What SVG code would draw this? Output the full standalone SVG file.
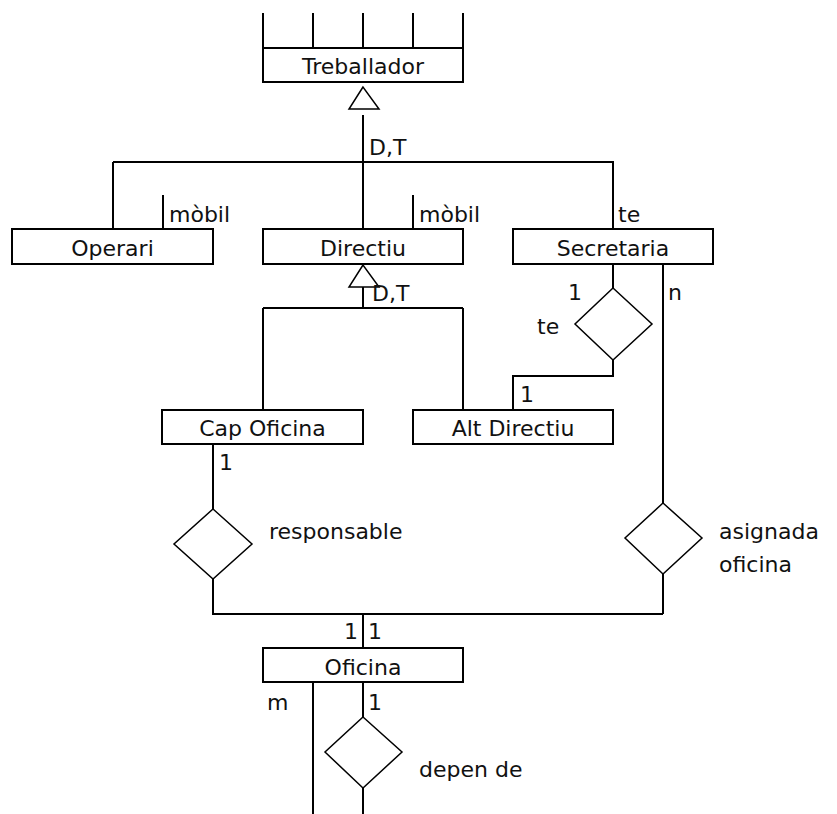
<svg xmlns="http://www.w3.org/2000/svg" width="837" height="814" viewBox="0 0 837 814">
  <style>
    .box { fill: #fff; stroke: #000; stroke-width: 2; }
    .ln { fill: none; stroke: #000; stroke-width: 2; }
    .rel { fill: #fff; stroke: #000; stroke-width: 1.5; }
    .isa { fill: #fff; stroke: #000; stroke-width: 1.5; }
    text { font-family: "DejaVu Sans", "Liberation Sans", sans-serif; font-size: 22px; fill: #111; }
    .c { text-anchor: middle; }
  </style>
  <rect width="837" height="814" fill="#fff"/>

  <g id="connectors">
    <!-- attribute stubs above Treballador -->
    <path class="ln" d="M263 13V48M313 13V48M363 13V48M413 13V48M463 13V48"/>
    <!-- first generalisation -->
    <path class="ln" d="M363 115V229M113 162H613V229M113 162V229"/>
    <!-- mobile attribute stubs -->
    <path class="ln" d="M163 195V229M413 195V229"/>
    <!-- second generalisation -->
    <path class="ln" d="M363 287V308M263 308H463M263 308V410M463 308V410"/>
    <!-- Secretaria - te - Alt Directiu -->
    <path class="ln" d="M613 264V288M613 360V376H513V410"/>
    <!-- Secretaria - asignada oficina -->
    <path class="ln" d="M663 264V503M663 574V614"/>
    <!-- Cap Oficina - responsable -->
    <path class="ln" d="M213 444V509M213 579V614H663M363 614V648"/>
    <!-- Oficina - depen de -->
    <path class="ln" d="M313 682V814M363 682V717M363 788V814"/>
  </g>

  <g id="isa-top"><polygon class="isa" points="363,87 349,109 379,109"/></g>
  <g id="isa-directiu"><polygon class="isa" points="363,265 349,287 379,287"/></g>

  <g id="treballador">
    <rect class="box" x="263" y="48" width="200" height="34"/>
    <text class="c" x="363" y="74">Treballador</text>
  </g>
  <g id="operari">
    <rect class="box" x="12" y="229" width="201" height="35"/>
    <text class="c" x="112.5" y="256">Operari</text>
  </g>
  <g id="directiu">
    <rect class="box" x="263" y="229" width="200" height="35"/>
    <text class="c" x="363" y="256">Directiu</text>
  </g>
  <g id="secretaria">
    <rect class="box" x="513" y="229" width="200" height="35"/>
    <text class="c" x="613" y="256">Secretaria</text>
  </g>
  <g id="cap-oficina">
    <rect class="box" x="162" y="410" width="201" height="34"/>
    <text class="c" x="262.5" y="436">Cap Oficina</text>
  </g>
  <g id="alt-directiu">
    <rect class="box" x="413" y="410" width="200" height="34"/>
    <text class="c" x="513" y="436">Alt Directiu</text>
  </g>
  <g id="oficina">
    <rect class="box" x="263" y="648" width="200" height="34"/>
    <text class="c" x="363" y="675">Oficina</text>
  </g>

  <g id="rel-te"><polygon class="rel" points="613,288 652,324 613,360 575,324"/></g>
  <g id="rel-responsable"><polygon class="rel" points="213,509 252,544 213,579 174,544"/></g>
  <g id="rel-asignada"><polygon class="rel" points="663,503 702,538 663,574 625,538"/></g>
  <g id="rel-depen"><polygon class="rel" points="363,717 402,752 363,788 325,752"/></g>

  <g id="labels">
    <text x="369" y="155">D,T</text>
    <text x="169" y="222">mòbil</text>
    <text x="419" y="222">mòbil</text>
    <text x="618" y="222">te</text>
    <text x="372" y="301">D,T</text>
    <text x="568" y="300">1</text>
    <text x="668" y="300">n</text>
    <text x="537" y="334">te</text>
    <text x="520" y="402">1</text>
    <text x="219" y="470">1</text>
    <text x="269" y="539">responsable</text>
    <text x="719" y="539">asignada</text>
    <text x="719" y="572">oficina</text>
    <text x="344" y="639">1</text>
    <text x="368" y="639">1</text>
    <text x="267" y="710">m</text>
    <text x="368" y="710">1</text>
    <text x="419" y="777">depen de</text>
  </g>
</svg>
